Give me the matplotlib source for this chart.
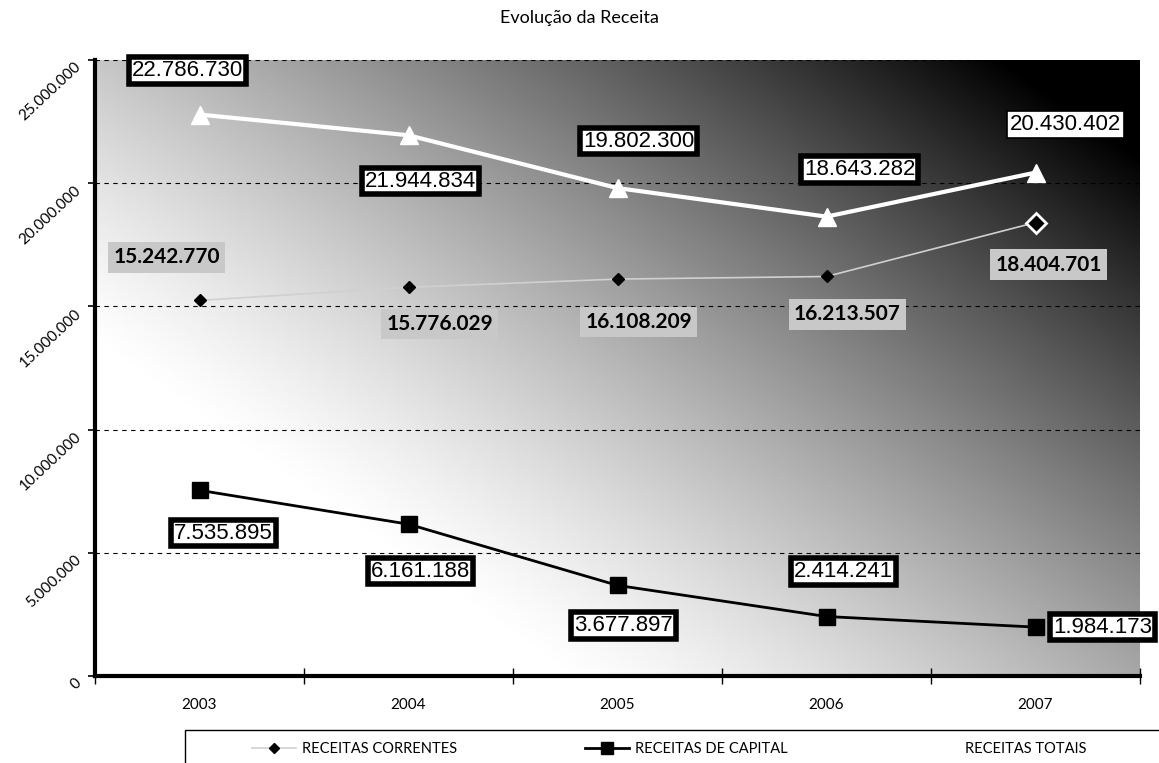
import numpy as np
import matplotlib.pyplot as plt
from matplotlib.patches import Rectangle
from matplotlib.ticker import FuncFormatter, FixedLocator

# ── dados ──────────────────────────────────
anos = ["2003", "2004", "2005", "2006", "2007"]
receitas_correntes = [15242770, 15776029, 16108209, 16213507, 18404701]
receitas_capital = [7535895, 6161188, 3677897, 2414241, 1984173]
receitas_totais = [22786730, 21944834, 19802300, 18643282, 20430402]

# deslocamento dos rótulos (pixels) relativamente ao marcador
off_totais = [(-12, 44), (12, -46), (21, 47), (33, 47), (30, 48)]
off_correntes = [(-33, 43), (31, -37), (21, -43), (21, -38), (13, -42)]
off_capital = [(24, -43), (12, -47), (6, -40), (17, 45), (67, 0)]


def fmt_pt(v, pos=None):
    return f"{int(v):,}".replace(",", ".")


plt.rcParams["font.family"] = ["Lato", "DejaVu Sans"]

W, H = 1159, 763
fig = plt.figure(figsize=(W / 100, H / 100), dpi=100)
ax = fig.add_axes([95 / W, 1 - 676 / H, 1045 / W, 616 / H])

# fundo em degradê linear: branco em baixo à esquerda, preto em cima à direita
px, py = np.meshgrid(np.linspace(0, 1045, 500), np.linspace(0, 616, 300))
proj = 0.574 * px + 0.819 * (py - 326)
light = 1 - np.clip(proj / 760, 0, 1) ** 1.3
ax.imshow(light, cmap="gray", vmin=0, vmax=1, extent=[0, 1, 0, 1],
          transform=ax.transAxes, aspect="auto", origin="lower", zorder=0)

x = np.arange(len(anos))

ax.plot(x, receitas_totais, color="white", lw=3, marker="^", ms=13,
        mfc="white", mec="white", zorder=4, label="RECEITAS TOTAIS")
ax.plot(x, receitas_correntes, color="#d0d0d0", lw=1.2, marker="D", ms=6,
        mfc="black", mec="black", zorder=4, label="RECEITAS CORRENTES")
ax.plot(x[-1], receitas_correntes[-1], marker="D", ms=10, mfc="black",
        mec="white", mew=2, zorder=5)
ax.plot(x, receitas_capital, color="black", lw=2, marker="s", ms=11,
        mfc="black", mec="black", zorder=4, label="RECEITAS DE CAPITAL")

num_font = ["Liberation Sans", "DejaVu Sans"]
box_branca = dict(boxstyle="square,pad=0.12", fc="white", ec="black", lw=4)
box_cinza = dict(boxstyle="square,pad=0.25", fc="#c8c8c8", ec="none")

for i, val in enumerate(receitas_totais):
    bb = dict(box_branca)
    if i == len(anos) - 1:
        bb["lw"] = 1.2
    ax.annotate(fmt_pt(val), (x[i], val), xytext=off_totais[i],
                textcoords="offset pixels", ha="center", va="center",
                fontsize=16, family=num_font, bbox=bb, zorder=6)

for i, val in enumerate(receitas_correntes):
    ax.annotate(fmt_pt(val), (x[i], val), xytext=off_correntes[i],
                textcoords="offset pixels", ha="center", va="center",
                fontsize=15, fontweight="bold", bbox=box_cinza, zorder=6)

for i, val in enumerate(receitas_capital):
    ax.annotate(fmt_pt(val), (x[i], val), xytext=off_capital[i],
                textcoords="offset pixels", ha="center", va="center",
                fontsize=16, family=num_font, bbox=box_branca, zorder=6,
                annotation_clip=False)

# eixos
ax.set_xlim(-0.5, len(anos) - 0.5)
ax.set_ylim(0, 25000000)
ax.set_yticks(np.arange(0, 25000001, 5000000))
ax.yaxis.set_major_formatter(FuncFormatter(fmt_pt))
ax.tick_params(axis="y", labelsize=11, length=5, width=1.2, direction="out", pad=10)
for lbl in ax.get_yticklabels():
    lbl.set_rotation(43)
    lbl.set_rotation_mode("anchor")
    lbl.set_ha("right")
    lbl.set_va("top")

ax.xaxis.set_major_locator(FixedLocator(np.arange(-0.5, len(anos), 1.0)))
ax.xaxis.set_major_formatter(FuncFormatter(lambda v, p: ""))
ax.set_xticks(x, anos, minor=True)
ax.tick_params(axis="x", which="major", length=12, width=1, direction="inout")
ax.tick_params(axis="x", which="minor", length=0, labelsize=11, pad=16)

ax.grid(axis="y", color="black", linestyle=(0, (4, 4)), lw=0.8, zorder=1)
ax.set_axisbelow(False)
for s in ["top", "right"]:
    ax.spines[s].set_visible(False)
ax.spines["left"].set_linewidth(3)
ax.spines["bottom"].set_linewidth(3)

fig.text(0.5, 1 - 18 / H, "Evolução da Receita", ha="center", va="center",
         fontsize=13)

# legenda
handles, labels = ax.get_legend_handles_labels()
order = [1, 2, 0]
fig.patches.append(Rectangle((185 / W, -0.05), 1, 0.05 + 1 - 730 / H,
                             transform=fig.transFigure, fill=False,
                             ec="black", lw=1))
leg = fig.legend([handles[i] for i in order], [labels[i] for i in order],
                 loc="center left", bbox_to_anchor=(245 / W, 1 - 749 / H),
                 ncol=3, fontsize=10.5, frameon=False, handlelength=3.0,
                 handletextpad=0.4, columnspacing=8.8, borderpad=0,
                 markerscale=0.8)

fig.savefig("out.png", dpi=100)
